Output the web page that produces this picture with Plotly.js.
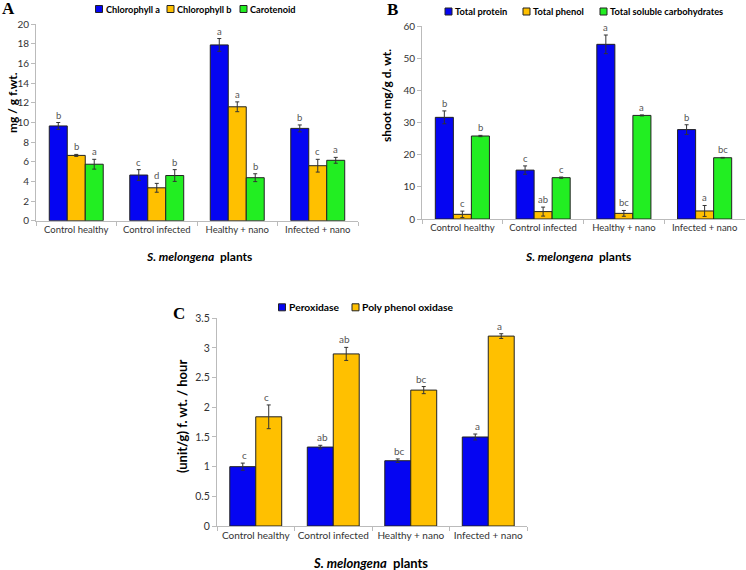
<!DOCTYPE html>
<html>
<head>
<meta charset="utf-8">
<script src="https://cdn.plot.ly/plotly-3.0.1.min.js"></script>
<style>
  html, body { margin: 0; padding: 0; background: #fff; }
  #plot { width: 746px; height: 570px; }
</style>
</head>
<body>
<div id="plot"></div>
<script>
const categories = ["Control healthy", "Control infected", "Healthy + nano", "Infected + nano"];

// Panel A: pigments (mg / g f.wt.)
const chlorophyllA = [9.65, 4.65, 17.9, 9.4];
const chlorophyllAErr = [0.35, 0.55, 0.65, 0.35];
const chlorophyllALetters = ["b", "c", "a", "b"];
const chlorophyllB = [6.65, 3.35, 11.6, 5.6];
const chlorophyllBErr = [0.1, 0.45, 0.5, 0.65];
const chlorophyllBLetters = ["b", "d", "a", "c"];
const carotenoid = [5.75, 4.6, 4.38, 6.15];
const carotenoidErr = [0.5, 0.6, 0.4, 0.3];
const carotenoidLetters = ["a", "b", "b", "a"];

// Panel B: shoot mg/g d. wt.
const totalProtein = [31.6, 15.2, 54.3, 27.8];
const totalProteinErr = [2.0, 1.3, 2.9, 1.5];
const totalProteinLetters = ["b", "c", "a", "b"];
const totalPhenol = [1.45, 2.3, 1.75, 2.5];
const totalPhenolErr = [1.0, 1.4, 0.9, 1.7];
const totalPhenolLetters = ["c", "ab", "bc", "a"];
const carbohydrates = [25.8, 12.85, 32.2, 19.05];
const carbohydratesErr = [0.2, 0.2, 0.15, 0.1];
const carbohydratesLetters = ["b", "c", "a", "bc"];

// Panel C: enzymes (unit/g) f. wt. / hour
const peroxidase = [1.0, 1.33, 1.1, 1.5];
const peroxidaseErr = [0.06, 0.03, 0.03, 0.05];
const peroxidaseLetters = ["c", "ab", "bc", "a"];
const ppo = [1.84, 2.9, 2.29, 3.2];
const ppoErr = [0.2, 0.11, 0.06, 0.04];
const ppoLetters = ["c", "ab", "bc", "a"];

const BLUE = "#0505F2";
const ORANGE = "#FFC000";
const GREEN = "#22EE22";
const W = 746, H = 570;
const FONT = "Lato, 'Open Sans', sans-serif";

function px(x) { return x / W; }
function py(y) { return 1 - y / H; }

const panels = [
  { xa: "x", ya: "y", bargap: 0.33, legendY: 9, legendX: [95.5, 167, 240], legendSize: 9.2, letterSize: 9.5,
    series: [
      { name: "Chlorophyll a", y: chlorophyllA, err: chlorophyllAErr, letters: chlorophyllALetters, color: BLUE },
      { name: "Chlorophyll b", y: chlorophyllB, err: chlorophyllBErr, letters: chlorophyllBLetters, color: ORANGE },
      { name: "Carotenoid", y: carotenoid, err: carotenoidErr, letters: carotenoidLetters, color: GREEN }
    ] },
  { xa: "x2", ya: "y2", bargap: 0.33, legendY: 11.5, legendX: [445, 523, 600], legendSize: 9.3, letterSize: 9.5,
    series: [
      { name: "Total protein", y: totalProtein, err: totalProteinErr, letters: totalProteinLetters, color: BLUE },
      { name: "Total phenol", y: totalPhenol, err: totalPhenolErr, letters: totalPhenolLetters, color: ORANGE },
      { name: "Total soluble carbohydrates", y: carbohydrates, err: carbohydratesErr, letters: carbohydratesLetters, color: GREEN }
    ] },
  { xa: "x3", ya: "y3", bargap: 0.424, legendY: 307.3, legendX: [278.5, 352], legendSize: 10.3, letterSize: 10,
    series: [
      { name: "Peroxidase", y: peroxidase, err: peroxidaseErr, letters: peroxidaseLetters, color: BLUE },
      { name: "Poly phenol oxidase", y: ppo, err: ppoErr, letters: ppoLetters, color: ORANGE }
    ] }
];

const data = [];
const annotations = [];
const shapes = [];

panels.forEach(p => {
  const n = p.series.length;
  const bw = (1 - p.bargap) / n;
  p.series.forEach((s, k) => {
    data.push({
      type: "bar",
      name: s.name,
      x: categories,
      y: s.y,
      xaxis: p.xa,
      yaxis: p.ya,
      offsetgroup: String(k),
      showlegend: false,
      marker: { color: s.color, line: { color: "#222", width: 1 } },
      error_y: { type: "data", array: s.err, visible: true, color: "#333", thickness: 1, width: 2 },
      hoverinfo: "y"
    });
    // significance letters above each error bar
    const off = -(1 - p.bargap) / 2 + (k + 0.5) * bw;
    s.y.forEach((v, i) => {
      annotations.push({
        xref: p.xa, yref: p.ya, x: i + off, y: v + s.err[i],
        text: s.letters[i], showarrow: false, yanchor: "bottom", yshift: 0,
        font: { family: FONT, size: p.letterSize, color: "#555" }
      });
    });
    // hand-made compact legend: small bordered square + bold name
    const lx = p.legendX[k];
    const half = 3.5;
    shapes.push({ type: "rect", xref: "paper", yref: "paper",
      x0: px(lx), x1: px(lx + 2 * half), y0: py(p.legendY + half), y1: py(p.legendY - half),
      fillcolor: s.color, line: { color: "#222", width: 1 } });
    annotations.push({ xref: "paper", yref: "paper", x: px(lx + 2 * half + 1), y: py(p.legendY),
      xanchor: "left", yanchor: "middle", showarrow: false, text: "<b>" + s.name + "</b>",
      font: { family: FONT, size: p.legendSize, color: "#000" } });
  });
});

function label(text, x, y, opts) {
  return Object.assign({ xref: "paper", yref: "paper", x: px(x), y: py(y), text: text,
    showarrow: false, xanchor: "center", yanchor: "middle" }, opts || {});
}

// panel letters
const letterFont = { family: "'Liberation Serif', serif", size: 17, color: "#000" };
annotations.push(label("<b>A</b>", 8, 8, { font: letterFont }));
annotations.push(label("<b>B</b>", 392, 9, { font: letterFont }));
annotations.push(label("<b>C</b>", 179, 313, { font: letterFont }));

// y titles
const titleFont = { family: FONT, size: 12, color: "#000" };
const titleFontC = { family: FONT, size: 13, color: "#000" };
annotations.push(label("<b>mg / g f.wt.</b>", 12, 103, { textangle: -90, font: titleFont }));
annotations.push(label("<b>shoot mg/g d. wt.</b>", 387, 96, { textangle: -90, font: titleFont }));
annotations.push(label("<b>(unit/g) f. wt. / hour</b>", 182, 417, { textangle: -90, font: titleFontC }));

// x titles
const xTitle = "<b><i>S. melongena</i>  plants</b>";
annotations.push(label(xTitle, 199, 256, { font: titleFont }));
annotations.push(label(xTitle, 578, 256, { font: titleFont }));
annotations.push(label(xTitle, 370, 563, { font: titleFontC }));

function xAxis(dom, anchor, size) {
  return { domain: dom, anchor: anchor, type: "category", showline: true, linecolor: "#bbb", linewidth: 1,
    ticks: "outside", tickson: "boundaries", ticklen: 4, tickcolor: "#bbb", tickangle: 0,
    tickfont: { family: FONT, size: size, color: "#333" }, showgrid: false, zeroline: false, fixedrange: true };
}
function yAxis(dom, range, dtick, anchor, size) {
  return { domain: dom, range: range, dtick: dtick, anchor: anchor, showline: true, linecolor: "#bbb",
    linewidth: 1, ticks: "outside", ticklen: 4, tickcolor: "#bbb",
    tickfont: { family: FONT, size: size, color: "#333" },
    showgrid: false, zeroline: false, fixedrange: true };
}

const layout = {
  width: W, height: H,
  margin: { l: 0, r: 0, t: 0, b: 0 },
  paper_bgcolor: "#fff", plot_bgcolor: "#fff",
  barmode: "group",
  bargap: 0.33,
  showlegend: false,
  xaxis: xAxis([px(36), px(358)], "y", 9.5),
  yaxis: yAxis([py(220.7), py(24.3)], [0, 20], 2, "x", 10),
  xaxis2: xAxis([px(422), px(745)], "y2", 9.5),
  yaxis2: yAxis([py(219), py(26)], [0, 60], 10, "x2", 10),
  xaxis3: xAxis([px(217), px(527)], "y3", 10),
  yaxis3: yAxis([py(526), py(318.3)], [0, 3.5], 0.5, "x3", 10.5),
  shapes: shapes,
  annotations: annotations
};

Plotly.newPlot("plot", data, layout, { displayModeBar: false, staticPlot: true });
</script>
</body>
</html>
